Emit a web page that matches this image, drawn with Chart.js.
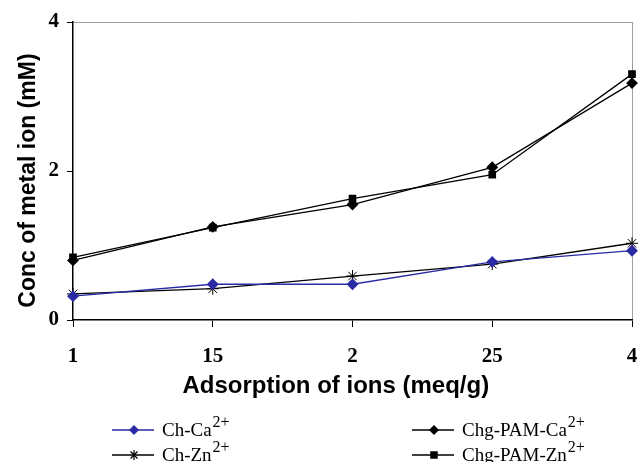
<!DOCTYPE html>
<html>
<head>
<meta charset="utf-8">
<script src="https://cdn.jsdelivr.net/npm/chart.js@4"></script>
<style>
  html, body { margin: 0; padding: 0; background: #fff; }
  #wrap { width: 643px; height: 462px; }
</style>
</head>
<body>
<div id="wrap"><canvas id="ionChart" width="643" height="462"></canvas></div>
<script>
// values
const categories = ['1', '15', '2', '25', '4'];
const chCa = [0.32, 0.48, 0.48, 0.78, 0.93];
const chZn = [0.35, 0.42, 0.59, 0.75, 1.03];
const chgPamCa = [0.80, 1.25, 1.55, 2.05, 3.18];
const chgPamZn = [0.84, 1.24, 1.63, 1.95, 3.30];
const yTicks = [0, 2, 4];

const BLUE = '#2a2aa5';
const serifBold = { family: '"Liberation Serif", "Times New Roman", serif', weight: 'bold', size: 21 };
const sansBold = { family: '"Liberation Sans", Arial, sans-serif', weight: 'bold' };
const NB = '\u00a0';

// legend placed in two columns under the axis title
const legendSlots = [
    { label: 'Ch-Ca', x: 112, y: 430 },
    { label: 'Ch-Zn', x: 112, y: 455 },
    { label: 'Chg-PAM-Ca', x: 412, y: 430 },
    { label: 'Chg-PAM-Zn', x: 412, y: 455 }
];

function drawMarker(ctx, style, x, y, r, color) {
    ctx.save();
    ctx.fillStyle = color;
    ctx.strokeStyle = color;
    ctx.lineWidth = 1.2;
    ctx.beginPath();
    if (style === 'rectRot') {
        ctx.moveTo(x, y - r); ctx.lineTo(x + r, y); ctx.lineTo(x, y + r); ctx.lineTo(x - r, y);
        ctx.closePath(); ctx.fill();
    } else if (style === 'rect') {
        ctx.rect(x - r * 0.75, y - r * 0.75, r * 1.5, r * 1.5); ctx.fill();
    } else if (style === 'star') {
        const d = r * 0.7;
        ctx.moveTo(x - d, y - d); ctx.lineTo(x + d, y + d);
        ctx.moveTo(x + d, y - d); ctx.lineTo(x - d, y + d);
        ctx.moveTo(x, y - r); ctx.lineTo(x, y + r);
        ctx.stroke();
    }
    ctx.restore();
}

const legendPlugin = {
    id: 'twoColLegend',
    afterDraw(chart) {
        const ctx = chart.ctx;
        chart.data.datasets.forEach((ds, i) => {
            const slot = legendSlots[i];
            ctx.save();
            ctx.strokeStyle = ds.borderColor;
            ctx.lineWidth = 1.3;
            ctx.beginPath();
            ctx.moveTo(slot.x, slot.y);
            ctx.lineTo(slot.x + 42, slot.y);
            ctx.stroke();
            drawMarker(ctx, ds.pointStyle, slot.x + 22, slot.y, 5, ds.borderColor);
            ctx.fillStyle = '#000';
            ctx.textBaseline = 'alphabetic';
            ctx.font = '19px "Liberation Serif", "Times New Roman", serif';
            ctx.fillText(slot.label, slot.x + 50, slot.y + 6);
            const w = ctx.measureText(slot.label).width;
            ctx.font = '16px "Liberation Serif", "Times New Roman", serif';
            ctx.fillText('2+', slot.x + 51 + w, slot.y - 3);
            ctx.restore();
        });
    }
};

const chart = new Chart(document.getElementById('ionChart'), {
    type: 'line',
    data: {
        labels: categories,
        datasets: [
            { label: 'Ch-Ca2+', data: chCa, borderColor: BLUE, backgroundColor: BLUE,
              pointStyle: 'rectRot', pointRadius: 5, borderWidth: 1.3 },
            { label: 'Ch-Zn2+', data: chZn, borderColor: '#000', backgroundColor: '#000',
              pointStyle: 'star', pointRadius: 6, pointBorderWidth: 1, borderWidth: 1.3 },
            { label: 'Chg-PAM-Ca2+', data: chgPamCa, borderColor: '#000', backgroundColor: '#000',
              pointStyle: 'rectRot', pointRadius: 5, borderWidth: 1.3 },
            { label: 'Chg-PAM-Zn2+', data: chgPamZn, borderColor: '#000', backgroundColor: '#000',
              pointStyle: 'rect', pointRadius: 4.5, borderWidth: 1.3 }
        ]
    },
    options: {
        responsive: false,
        animation: false,
        devicePixelRatio: 1,
        layout: { padding: { top: 22, right: 11, left: 0, bottom: 0 } },
        plugins: { legend: { display: false }, tooltip: { enabled: false } },
        scales: {
            x: {
                offset: false,
                afterFit: s => { s.height = 142; s.paddingLeft = 0; s.paddingRight = 0; },
                border: { color: '#000', width: 1.5 },
                grid: {
                    color: c => (c.index === categories.length - 1 ? '#a0a0a0' : 'transparent'),
                    tickColor: '#000',
                    tickLength: 7
                },
                ticks: { color: '#000', font: serifBold, padding: 17, maxRotation: 0 },
                title: {
                    display: true,
                    text: 'Adsorption of ions (meq/g)' + NB.repeat(5),
                    color: '#000',
                    font: { ...sansBold, size: 24 },
                    padding: { top: 0, bottom: 61 }
                }
            },
            y: {
                min: 0,
                max: 4,
                afterFit: s => { s.width = 73; },
                afterBuildTicks: s => { s.ticks = yTicks.map(v => ({ value: v })); },
                border: { color: '#000', width: 1.5 },
                grid: {
                    color: c => (c.tick && c.tick.value === 4 ? '#a0a0a0' : 'transparent'),
                    tickColor: '#000',
                    tickLength: 6
                },
                ticks: { color: '#000', font: serifBold, padding: 8 },
                title: {
                    display: true,
                    text: 'Conc of metal ion (mM)' + NB.repeat(3),
                    color: '#000',
                    font: { ...sansBold, size: 23 },
                    padding: { top: 15, bottom: 0 }
                }
            }
        }
    },
    plugins: [legendPlugin]
});
</script>
</body>
</html>
